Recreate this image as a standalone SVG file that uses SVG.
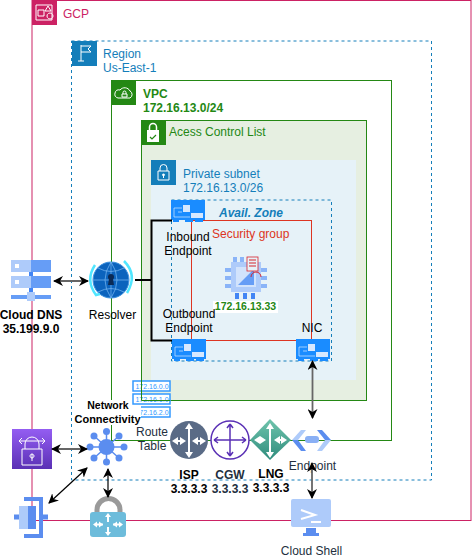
<svg xmlns="http://www.w3.org/2000/svg" width="473" height="559" viewBox="0 0 473 559">
<style>
text{font-family:"Liberation Sans",Arial,sans-serif;font-size:12px;fill:#000}
.c{text-anchor:middle}
.b{font-weight:bold}
.ico{fill:none;stroke:#fff;stroke-width:1}
.nic{fill:#1a8cff}
.arr{fill:none;stroke:#000;stroke-width:1.200;marker-start:url(#ah);marker-end:url(#ah)}
.gy{fill:none;stroke:#666;stroke-width:1.800;marker-start:url(#ah);marker-end:url(#ah)}
.rt{fill:#fff;stroke:#3399ff;stroke-width:1.500}
.rtt{font-size:7px;fill:#3399ff;text-anchor:middle}
</style>
<defs>
<marker id="ah" viewBox="0 0 10 10" refX="9" refY="5" markerWidth="10" markerHeight="10" markerUnits="userSpaceOnUse" orient="auto-start-reverse"><path d="M0 0L10 5L0 10L3 5Z" fill="#000"/></marker>
<g id="nicg">
<path d="M0 0H34V20H32V22H24V20H22V22H14V20H8V22H2V20H0Z" class="nic"/>
<rect x="12" y="5" width="7" height="7" fill="#d6e8ff"/><rect x="20" y="13" width="12" height="5" fill="#d6e8ff"/>
<path d="M3 8H11M3 8V17H19M7 12H11" fill="none" stroke="#d6e8ff" stroke-width=".7"/>
</g>
<linearGradient id="pur" x1="0" y1="0" x2="0" y2="1"><stop offset="0" stop-color="#945df2"/><stop offset="1" stop-color="#5a30b5"/></linearGradient>
<linearGradient id="tl" x1="0" y1="0" x2="0" y2="1"><stop offset="0" stop-color="#6fc4ac"/><stop offset="1" stop-color="#2f8c7d"/></linearGradient>
</defs>
<g id="gcp">
<rect x="32" y="0.500" width="439" height="520" fill="none" stroke="#cc2264" stroke-width="1"/>
<rect x="32" y="0" width="25" height="25" fill="#cc2264"/>
<path class="ico" d="M38 10h6v6h-6zM48 6l3 5h-6zM50 13a3 3 0 1 0 .01 0zM36 5h16v15H36z" stroke-width=".8"/>
<text x="63" y="18" style="fill:#cc2264">GCP</text>
</g>
<g id="region">
<rect x="71.500" y="41" width="360" height="439" fill="none" stroke="#147eba" stroke-dasharray="3 3"/>
<rect x="72" y="41" width="25" height="25" fill="#147eba"/>
<path class="ico" d="M81 45V61M78 61H84M81 46H91L88 49L91 52H81"/>
<text x="103" y="58" style="fill:#147eba">Region</text>
<text x="103" y="72" style="fill:#147eba">Us-East-1</text>
</g>
<g id="vpc">
<rect x="111.500" y="80.500" width="280" height="360" fill="none" stroke="#248814"/>
<rect x="111" y="80" width="25" height="25" fill="#248814"/>
<path class="ico" d="M118 98H130A4 4 0 0 0 130 91A6 6 0 0 0 120 90A4 4 0 0 0 118 98ZM122 94h5v3h-5zM123 94v-1.500a1.500 1.500 0 0 1 3 0V94"/>
<text x="143" y="98" class="b" style="fill:#248814">VPC</text>
<text x="143" y="112" class="b" style="fill:#248814">172.16.13.0/24</text>
</g>
<g id="acl">
<rect x="141.500" y="120.500" width="225" height="280" fill="#e6efe1" stroke="#248814"/>
<rect x="141" y="120" width="25" height="25" fill="#248814"/>
<path d="M147 130h12v12h-12z" fill="#fff"/><path d="M149.500 130v-3a3.500 3.500 0 0 1 7 0v3" fill="none" stroke="#fff" stroke-width="1.500"/>
<path d="M150 137l2 2l4-4" fill="none" stroke="#248814" stroke-width="1.200"/>
<text x="169" y="136" style="fill:#248814">Acess Control List</text>
</g>
<g id="subnet">
<rect x="151" y="160" width="205" height="220" fill="#e6f2f8"/>
<rect x="151" y="160" width="25" height="25" fill="#147eba"/>
<path class="ico" d="M158 171h11v9h-11zM160 171v-3a3.500 3.500 0 0 1 7 0v3M163.500 174a1 1 0 1 0 .01 0V178"/>
<text x="183" y="178" style="fill:#147eba">Private subnet</text>
<text x="183" y="192" style="fill:#147eba">172.16.13.0/26</text>
</g>
<g id="az">
<rect x="171.500" y="200" width="160" height="161" fill="none" stroke="#147eba" stroke-dasharray="3 3"/>
<text x="219" y="217" class="b" style="fill:#147eba;font-style:italic">Avail. Zone</text>
</g>
<g id="sg">
<rect x="191.500" y="220.500" width="120" height="120" fill="none" stroke="#dd3522"/>
<text x="212" y="238" style="fill:#dd3522">Security group</text>
</g>
<g id="instance">
<g fill="#8ab4f8">
<rect x="233" y="257" width="4" height="6"/><rect x="240" y="257" width="4" height="6"/>
<rect x="225" y="268" width="6" height="4"/><rect x="225" y="276" width="6" height="4"/><rect x="225" y="284" width="6" height="4"/>
<rect x="261" y="268" width="6" height="4"/><rect x="261" y="276" width="6" height="4"/><rect x="261" y="284" width="6" height="4"/>
</g>
<g fill="#4285f4"><rect x="235" y="293" width="4" height="6"/><rect x="243" y="293" width="4" height="6"/><rect x="251" y="293" width="4" height="6"/></g>
<rect x="231" y="262" width="30" height="30" fill="#aecbfa"/>
<rect x="236" y="267" width="20" height="20" fill="#d2e3fc"/>
<path d="M238 285h16v-16z" fill="#669df6"/>
<rect x="247" y="257" width="11" height="14" fill="#e6f2f8" stroke="#d6242d" stroke-width=".8"/>
<path d="M249 260h7M249 263h7M249 266h7" stroke="#d6242d" stroke-width="1.200"/>
<path d="M251 277a5 5 0 0 1 10 0" fill="none" stroke="#d6242d" stroke-width="1"/>
<rect x="213" y="301" width="65" height="12" fill="#fff"/>
<text x="245.500" y="310" class="c b" style="fill:#248814;font-size:10.500px">172.16.13.33</text>
</g>
<g id="inbound"><use href="#nicg" x="171" y="200"/><text x="188" y="241" class="c">Inbound</text><text x="188" y="255" class="c">Endpoint</text></g>
<g id="outbound"><use href="#nicg" x="172" y="339"/><text x="189" y="318" class="c">Outbound</text><text x="189" y="332" class="c">Endpoint</text></g>
<g id="nic"><use href="#nicg" x="296" y="339"/><text x="312" y="332" class="c">NIC</text></g>
<g id="cloud-dns">
<rect x="11" y="260" width="40" height="12" fill="#aecbfa"/><rect x="31" y="260" width="20" height="12" fill="#669df6"/>
<rect x="11" y="276" width="40" height="12" fill="#aecbfa"/><rect x="31" y="276" width="20" height="12" fill="#669df6"/>
<rect x="29" y="272" width="4" height="4" fill="#4285f4"/><rect x="29" y="288" width="4" height="4" fill="#4285f4"/>
<rect x="11" y="295" width="40" height="4" fill="#669df6"/><rect x="27" y="292" width="8" height="9" fill="#aecbfa"/>
<rect x="15" y="264" width="4" height="4" fill="#fff"/><rect x="15" y="280" width="4" height="4" fill="#fff"/>
<text x="31" y="319" class="c b">Cloud DNS</text><text x="31" y="333" class="c b">35.199.9.0</text>
</g>
<g id="resolver">
<circle cx="111" cy="280" r="18" fill="#0b63bd" stroke="#3f93e0"/>
<path d="M93 280H129M111 262V298M98 268Q111 275 124 268M98 292Q111 285 124 292M111 262Q99 280 111 298M111 262Q123 280 111 298" fill="none" stroke="#6fb0ee" stroke-width=".8"/>
<circle cx="111" cy="277" r="3" fill="#0b2a55"/><path d="M109 279h4l1 6h-6z" fill="#0b2a55"/>
<path d="M95 265Q85 280 96 295l4-1M124 261Q138 275 127 293" fill="none" stroke="#50e6ff" stroke-width="2.500"/>
<text x="112.500" y="319" class="c">Resolver</text>
</g>
<g id="route-table">
<rect x="133" y="381" width="37" height="10" class="rt"/><text x="152" y="389" class="rtt">172.16.0.0</text>
<rect x="133" y="394" width="37" height="10" class="rt"/><text x="152" y="402" class="rtt">172.16.1.0</text>
<rect x="133" y="407" width="37" height="10" class="rt"/><text x="152" y="415" class="rtt">172.16.2.0</text>
<path d="M141.500 375V400.500H170" fill="none" stroke="#248814"/>
<text x="152" y="436" class="c" style="fill:#232f3e">Route</text><text x="152" y="450" class="c" style="fill:#232f3e">Table</text>
</g>
<g id="firewall">
<rect x="12" y="429" width="40" height="40" fill="url(#pur)"/>
<path class="ico" d="M22 449h20v16h-20zM25 449v-5a7 7 0 0 1 14 0v5M19 441h26M19 441l3-3M19 441l3 3M45 441l-3-3M45 441l-3 3M32 454a2 2 0 1 0 .01 0V461"/>
</g>
<g id="network-connectivity">
<path d="M74 400H130V405H141V425H74Z" fill="#fff"/>
<text x="108" y="409" class="c b" style="font-size:10.500px">Network</text>
<text x="107.500" y="423" class="c b" style="font-size:11px">Connectivity</text>
<path d="M106.500 447V431M106.500 447H124M106.500 447H90M106.500 447V462M106.500 447L94 436M106.500 447L119 436M106.500 447L94 458M106.500 447L119 458" stroke="#5b8def" stroke-width="1.500"/>
<circle cx="106.500" cy="447" r="8" fill="#5b8def"/>
<circle cx="106.500" cy="431.500" r="3.500" fill="#5b8def"/><circle cx="106.500" cy="462" r="3.500" fill="#5b8def"/>
<circle cx="90" cy="447" r="3.500" fill="#5b8def"/><circle cx="124" cy="447" r="3.500" fill="#5b8def"/>
<circle cx="94" cy="436" r="3.500" fill="#5b8def"/><circle cx="119" cy="436" r="3.500" fill="#5b8def"/>
<circle cx="94" cy="458" r="3.500" fill="#5b8def"/><circle cx="119" cy="458" r="3.500" fill="#5b8def"/>
</g>
<g id="interconnect">
<path d="M14 517h6M42 517h6" stroke="#5b8def" stroke-width="5"/>
<rect x="19" y="506" width="9" height="23" fill="#aecbfa"/><rect x="28" y="506" width="8" height="23" fill="#5b8def"/>
<path d="M24 499H41V536H24" fill="none" stroke="#5b8def" stroke-width="4"/>
</g>
<g id="vpn">
<path d="M97 518V510a11 11 0 0 1 23 0V518" fill="none" stroke="#9a9a9a" stroke-width="5"/>
<rect x="90" y="512" width="36" height="25" rx="3" fill="#6dbcdb"/>
<path d="M108 515V522M108 527V534M95 524.500H103M113 524.500H121" stroke="#fff" stroke-width="2"/>
<path d="M108 513l-3 4h6zM108 536l-3-4h6zM93 524.500l4-3v6zM103 524.500l-4-3v6zM123 524.500l-4-3v6zM113 524.500l4-3v6z" fill="#fff"/>
</g>
<g id="isp">
<circle cx="189" cy="440" r="19" fill="#5a6b86"/>
<path d="M189 425V455M174 441H184M194 441H204" stroke="#fff" stroke-width="2"/>
<path d="M189 423l-4 6h8zM189 458l-4-6h8zM172 441l6-4v8zM186 441l-6-4v8zM192 441l6-4v8zM206 441l-6-4v8z" fill="#fff"/>
<text x="189" y="479" class="c b">ISP</text><text x="189" y="493" class="c b">3.3.3.3</text>
</g>
<g id="cgw">
<circle cx="230" cy="440" r="19" fill="#fff" stroke="#5a30b5" stroke-width="1.500"/>
<path d="M230 424V456M214 440H246M230 424l-3 4M230 424l3 4M230 456l-3-4M230 456l3-4M214 440l4-3M214 440l4 3M246 440l-4-3M246 440l-4 3" fill="none" stroke="#5a30b5" stroke-width="1.500"/>
<text x="230" y="479" class="c b" style="fill:#232f3e">CGW</text><text x="230" y="493" class="c b" style="fill:#232f3e">3.3.3.3</text>
</g>
<g id="lng">
<path d="M270 419L291 440L270 460L250 440Z" fill="url(#tl)"/>
<path d="M270 425V455M256 440H264M276 440H285" stroke="#fff" stroke-width="2"/>
<path d="M270 423l-4 6h8zM270 458l-4-6h8zM254 440l6-4v8zM266 440l-6-4v8zM274 440l6-4v8zM287 440l-6-4v8z" fill="#fff"/>
<text x="271" y="478" class="c b">LNG</text><text x="271" y="492" class="c b">3.3.3.3</text>
</g>
<g id="endpoint">
<path d="M292 440L301 430H306L298 440Z" fill="#aecbfa"/><path d="M292 440L301 451H306L298 440Z" fill="#5b8def"/>
<path d="M331 440L322 430H317L325 440Z" fill="#5b8def"/><path d="M331 440L322 451H317L325 440Z" fill="#aecbfa"/>
<rect x="305" y="436" width="14" height="7" rx="3" fill="#8ab0f5"/>
<text x="312.500" y="470" class="c" style="fill:#232f3e">Endpoint</text>
</g>
<g id="cloud-shell">
<rect x="291" y="499" width="40" height="28" rx="2" fill="#aecbfa"/>
<path d="M301 510L315 515L301 519" fill="none" stroke="#fff" stroke-width="2"/><path d="M311 522H321" stroke="#fff" stroke-width="2"/>
<rect x="306" y="528" width="10" height="5" fill="#5b8def"/><rect x="303" y="533" width="16" height="3" fill="#5b8def"/>
<text x="311.500" y="555" class="c" style="fill:#232f3e">Cloud Shell</text>
</g>
<g id="connectors">
<path d="M172 220.500H151.500V340.500H172M135 280H151.500" fill="none" stroke="#000" stroke-width="2"/>
<path d="M54 281H88" class="gy"/>
<path d="M52 449H87" class="gy"/>
<path d="M87 468L49 503" class="arr"/>
<path d="M108 469V497" class="arr"/>
<path d="M312.500 361V418" class="gy"/>
<path d="M312 463V498" class="gy"/>
</g>
</svg>
